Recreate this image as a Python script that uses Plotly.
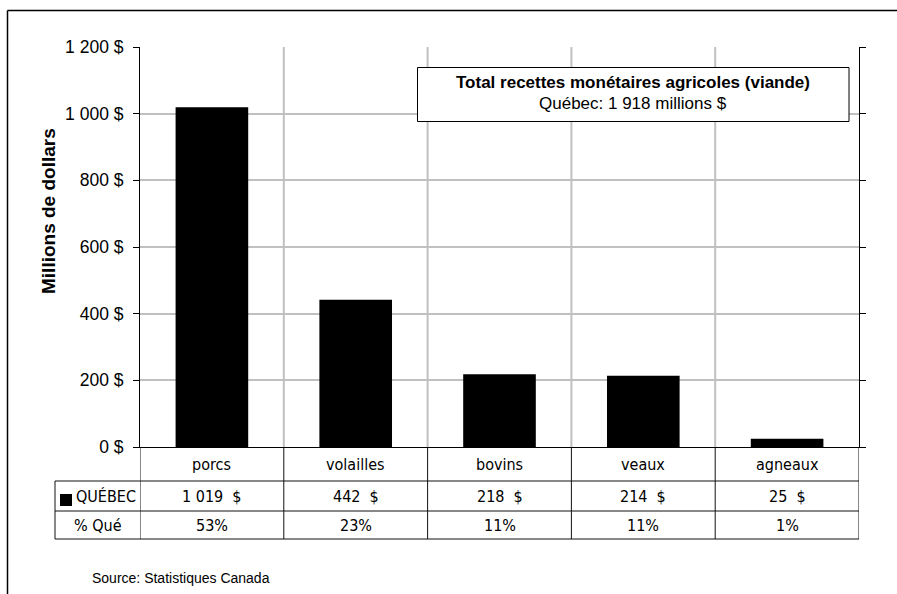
import plotly.graph_objects as go

categories = ["porcs", "volailles", "bovins", "veaux", "agneaux"]
values = [1019, 442, 218, 214, 25]
percents = [53, 23, 11, 11, 1]
total = 1918
series_name = "QUÉBEC"
pct_row_label = "% Qué"
y_ticks = [0, 200, 400, 600, 800, 1000, 1200]
box_title = "Total recettes monétaires agricoles (viande)"
box_sub = "Québec: 1 918 millions $"
source = "Source: Statistiques Canada"
y_title = "Millions de dollars"

W, H = 897, 594
L, R, T, B = 140, 38, 47, 147
PW, PH = W - L - R, H - T - B


def px(x):
    return (x - L) / PW


def py(y):
    return (H - B - y) / PH


def fmt(v):
    return f"{v:,}".replace(",", " ")


ARIAL = "Liberation Sans, Arial, sans-serif"
NARROW = "Liberation Sans Narrow, Arial Narrow, DejaVu Sans Condensed, sans-serif"
NS = 16

fig = go.Figure()
fig.add_trace(go.Bar(x=list(range(len(categories))), y=values, marker=dict(color="black", line=dict(width=0)),
                     width=0.505, showlegend=False, hoverinfo="skip"))

shapes = []
ann = []
# vertical gridlines at category boundaries
for i in range(1, len(categories)):
    shapes.append(dict(type="line", xref="x", yref="paper", x0=i - 0.5, x1=i - 0.5, y0=0, y1=1,
                       line=dict(color="#c0c0c0", width=2), layer="below"))

# table
line_col = "#111111"
for i in range(len(categories) + 1):
    shapes.append(dict(type="line", xref="x", yref="paper", x0=i - 0.5, x1=i - 0.5, y0=py(447), y1=py(539),
                       line=dict(color=line_col, width=1)))
shapes.append(dict(type="line", xref="paper", yref="paper", x0=px(55), x1=px(55), y0=py(481), y1=py(539),
                   line=dict(color=line_col, width=1)))
for yy in (481, 511, 539):
    shapes.append(dict(type="line", xref="paper", yref="paper", x0=px(55), x1=1, y0=py(yy), y1=py(yy),
                       line=dict(color=line_col, width=1)))
# legend key square
shapes.append(dict(type="rect", xref="paper", yref="paper", x0=px(60), x1=px(72), y0=py(494), y1=py(506),
                   fillcolor="black", line=dict(width=0)))

for i, c in enumerate(categories):
    ann.append(dict(x=i, y=py(464), xref="x", yref="paper", text=c, showarrow=False,
                    font=dict(family=NARROW, size=NS, color="black"), xanchor="center", yanchor="middle"))
    ann.append(dict(x=i, y=py(496.5), xref="x", yref="paper", text=f"{fmt(values[i])}  $", showarrow=False,
                    font=dict(family=NARROW, size=NS, color="black"), xanchor="center", yanchor="middle"))
    ann.append(dict(x=i, y=py(525.5), xref="x", yref="paper", text=f"{percents[i]}%", showarrow=False,
                    font=dict(family=NARROW, size=NS, color="black"), xanchor="center", yanchor="middle"))

ann.append(dict(x=px(74), y=py(496.5), xref="paper", yref="paper", text=series_name, showarrow=False,
                font=dict(family=NARROW, size=NS, color="black"), xanchor="left", yanchor="middle"))
ann.append(dict(x=px(97.5), y=py(525.5), xref="paper", yref="paper", text=pct_row_label, showarrow=False,
                font=dict(family=NARROW, size=NS, color="black"), xanchor="center", yanchor="middle"))

# info box
shapes.append(dict(type="rect", xref="paper", yref="paper", x0=px(417.5), x1=px(849), y0=py(67.5), y1=py(121.5),
                   fillcolor="white", line=dict(color="black", width=1), layer="above"))
ann.append(dict(x=px(633), y=py(82), xref="paper", yref="paper", text=f"<b>{box_title}</b>", showarrow=False,
                font=dict(family=ARIAL, size=17, color="black"), xanchor="center", yanchor="middle"))
ann.append(dict(x=px(633), y=py(104), xref="paper", yref="paper", text=box_sub, showarrow=False,
                font=dict(family=ARIAL, size=17, color="black"), xanchor="center", yanchor="middle"))

# y title
ann.append(dict(x=px(48), y=py(211), xref="paper", yref="paper", text=f"<b>{y_title}</b>", showarrow=False,
                textangle=-90, font=dict(family=ARIAL, size=19, color="black"), xanchor="center", yanchor="middle"))
# source
ann.append(dict(x=px(90), y=py(578), xref="paper", yref="paper", text=source, showarrow=False,
                font=dict(family=ARIAL, size=14, color="black"), xanchor="left", yanchor="middle"))

# outer border (top and left)
shapes.append(dict(type="line", xref="paper", yref="paper", x0=px(7.5), x1=px(900), y0=py(10.5), y1=py(10.5),
                   line=dict(color="black", width=1.5)))
shapes.append(dict(type="line", xref="paper", yref="paper", x0=px(7.5), x1=px(7.5), y0=py(10.5), y1=py(600),
                   line=dict(color="black", width=1.5)))

fig.update_layout(
    width=W, height=H, margin=dict(l=L, r=R, t=T, b=B, autoexpand=False),
    paper_bgcolor="white", plot_bgcolor="white",
    bargap=0.5, shapes=shapes, annotations=ann,
    xaxis=dict(range=[-0.5, len(categories) - 0.5], showgrid=False, showticklabels=False, ticks="",
               showline=True, linecolor="black", linewidth=1, zeroline=False, fixedrange=True),
    yaxis=dict(range=[0, 1200], tickvals=y_ticks, ticktext=[f"{fmt(v)} $" for v in y_ticks],
               showgrid=True, gridcolor="#c0c0c0", gridwidth=2, showline=True, linecolor="black",
               linewidth=1, mirror="ticks", ticks="outside", ticklen=6, tickcolor="black",
               ticklabelstandoff=6,
               tickfont=dict(family=ARIAL, size=17.5, color="black"), zeroline=False, fixedrange=True),
)

fig.write_html("out.html")
